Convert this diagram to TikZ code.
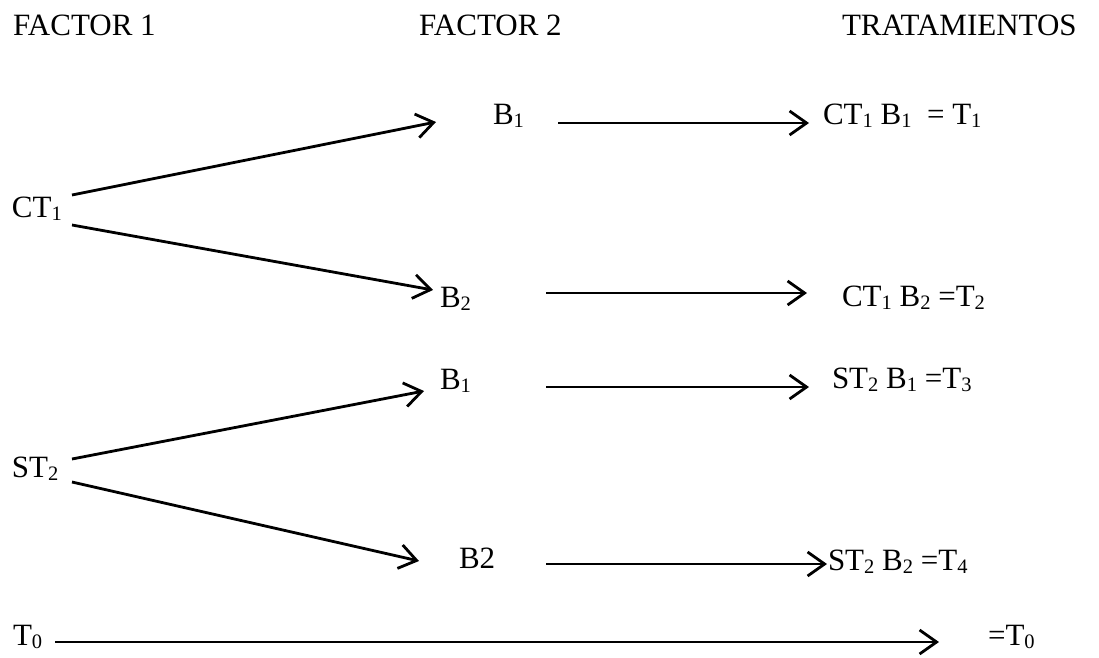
\documentclass[tikz,border=0pt]{standalone}
\usepackage{fontspec}
\setmainfont{Liberation Serif}
\usetikzlibrary{arrows.meta}
% lowered, smaller subscript digit
\newcommand\dn[1]{\raisebox{-3.5pt}{\fontsize{20.5}{20}\selectfont #1}}
\begin{document}
\begin{tikzpicture}[x=1pt,y=-1pt,
  lbl/.style={anchor=base west,inner sep=0pt,outer sep=0pt,font=\fontsize{31}{36}\selectfont},
  arr/.style={line width=2.8pt,-{Straight Barb[length=17pt,width=24pt]}}]
\fill[white] (0,0) rectangle (1099,657);
\useasboundingbox (0,0) rectangle (1099,657);

% column headings
\node[lbl] (f1) at (13,35) {FACTOR 1};
\node[lbl] (f2) at (419,35) {FACTOR 2};
\node[lbl] (tr) at (842,35) {TRATAMIENTOS};

% factor 1 levels
\node[lbl] (ct1) at (12,217) {CT\dn{1}};
\node[lbl] (st2) at (12,477) {ST\dn{2}};
\node[lbl] (t0) at (13,645) {T\dn{0}};

% factor 2 levels
\node[lbl] (b1a) at (493,124) {B\dn{1}};
\node[lbl] (b2a) at (440,307) {B\dn{2}};
\node[lbl] (b1b) at (440,389) {B\dn{1}};
\node[lbl] (b2b) at (459,568) {B2};

% treatments
\node[lbl] (r1) at (823,124) {CT\dn{1} B\dn{1}~ = T\dn{1}};
\node[lbl] (r2) at (842,306) {CT\dn{1} B\dn{2} =T\dn{2}};
\node[lbl] (r3) at (832,388) {ST\dn{2} B\dn{1} =T\dn{3}};
\node[lbl] (r4) at (828,570) {ST\dn{2} B\dn{2} =T\dn{4}};
\node[lbl] (r5) at (988,645) {=T\dn{0}};

% branches
\draw[arr] ([shift={(60,-22)}]ct1.base west) -- ([shift={(-57,-2)}]b1a.base west);
\draw[arr] ([shift={(60,8)}]ct1.base west) -- ([shift={(-7,-17)}]b2a.base west);
\draw[arr] ([shift={(60,-18)}]st2.base west) -- ([shift={(-16,2)}]b1b.base west);
\draw[arr] ([shift={(60,5)}]st2.base west) -- ([shift={(-40,-7)}]b2b.base west);

% combinations
\draw[arr] ([shift={(65,-1)}]b1a.base west) -- ([shift={(-14,-1)}]r1.base west);
\draw[arr] ([shift={(106,-14)}]b2a.base west) -- ([shift={(-35,-13)}]r2.base west);
\draw[arr] ([shift={(106,-2)}]b1b.base west) -- ([shift={(-23,-1)}]r3.base west);
\draw[arr] ([shift={(87,-4)}]b2b.base west) -- ([shift={(-1,-6)}]r4.base west);
\draw[arr] ([shift={(42,-3)}]t0.base west) -- ([shift={(-49,-3)}]r5.base west);
\end{tikzpicture}
\end{document}
